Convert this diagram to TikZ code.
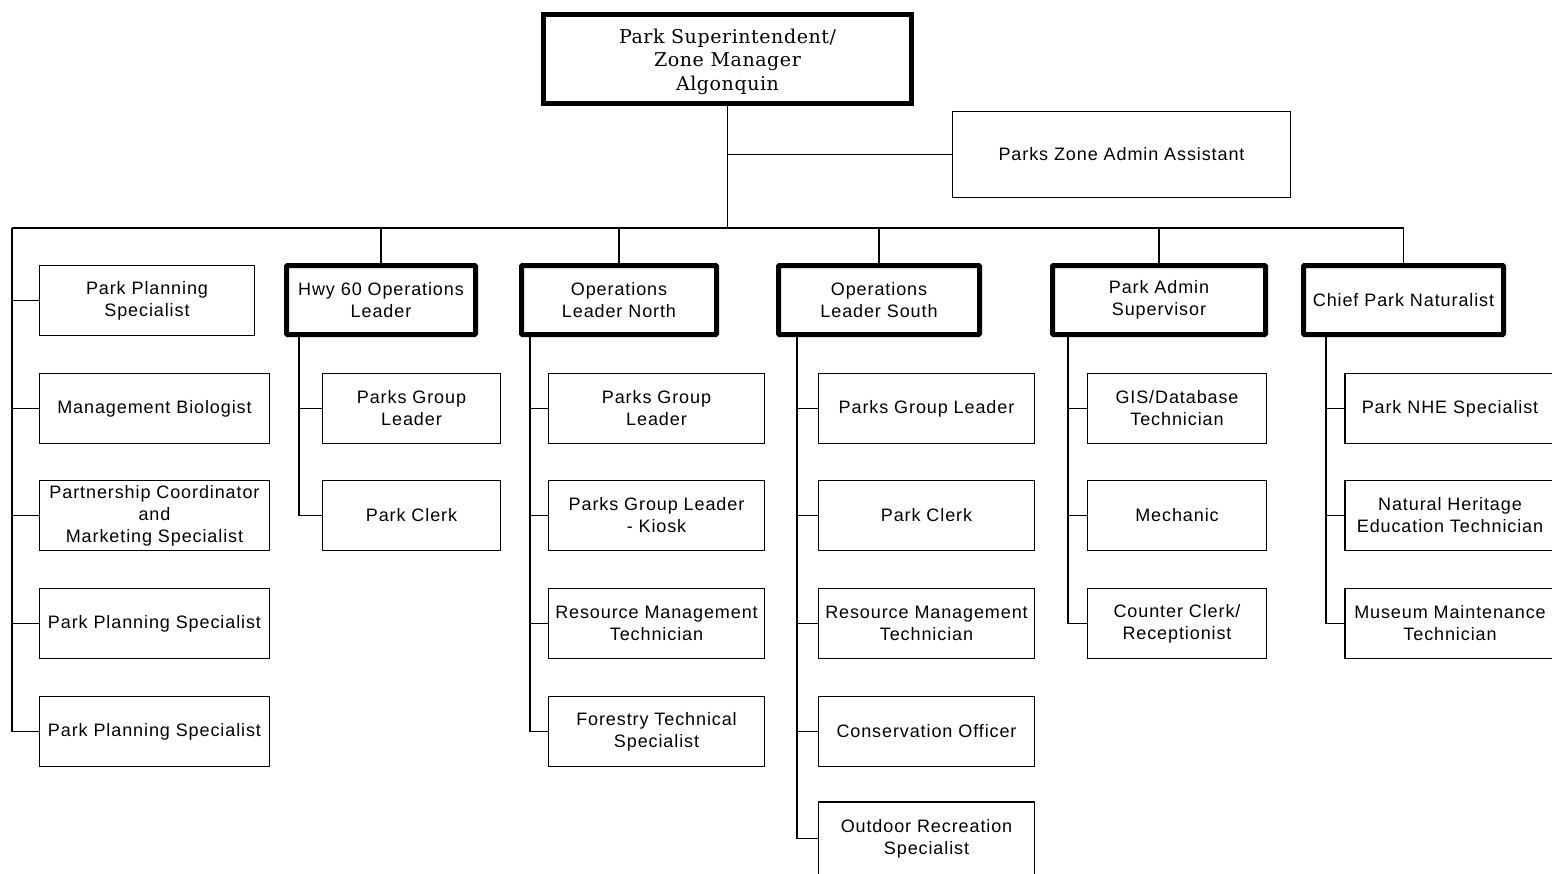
\documentclass[tikz,border=0pt]{standalone}
\usepackage{fontspec}
\newfontfamily\sansf[LetterSpace=5]{Liberation Sans}
\newfontfamily\serf[LetterSpace=3]{DejaVu Serif}
\begin{document}
\begin{tikzpicture}[x=1pt,y=-1pt,
  conn/.style={line width=1.3pt,draw=black},
  thinbox/.style={draw=black,line width=1.3pt,rectangle,align=center,inner sep=0pt,
    minimum height=70pt,font=\sansf\fontsize{18}{22}\selectfont},
  thickbox/.style={draw=black,line width=5pt,rectangle,rounded corners=1pt,align=center,inner sep=0pt,
    minimum height=69pt,font=\sansf\fontsize{18}{22}\selectfont},
  topbox/.style={draw=black,line width=5pt,rectangle,align=center,inner sep=0pt,
    font=\serf\fontsize{19}{23.5}\selectfont}]
\useasboundingbox (0,0) rectangle (1552,873);
\clip (0,0) rectangle (1552,873);

% top
\node[topbox,minimum width=368pt,minimum height=89pt] (top) at (727.5,59) {\rule{0pt}{20pt}Park Superintendent/\\Zone Manager\\Algonquin};
\node[thinbox,minimum width=338pt,minimum height=86pt] (adm) at (1121.5,154.5) {Parks Zone Admin Assistant};

% level 1 leaders
\node[thickbox,minimum width=189pt] (hwy) at (381,300) {Hwy 60 Operations\\Leader};
\node[thickbox,minimum width=195pt] (opn) at (619,300) {Operations\\Leader North};
\node[thickbox,minimum width=201pt] (ops) at (879,300) {Operations\\Leader South};
\node[thickbox,minimum width=213pt] (pas) at (1159,300) {Park Admin\\Supervisor};
\node[thickbox,minimum width=200pt] (cpn) at (1403.5,300) {Chief Park Naturalist};

% left column
\node[thinbox,minimum width=215pt] (l0) at (147,300.5) {Park Planning\\Specialist};
\node[thinbox,minimum width=230pt] (l1) at (154.5,408.5) {Management Biologist};
\node[thinbox,minimum width=230pt] (l2) at (154.5,515.5) {Partnership Coordinator\\and\\Marketing Specialist};
\node[thinbox,minimum width=230pt] (l3) at (154.5,623.5) {Park Planning Specialist};
\node[thinbox,minimum width=230pt] (l4) at (154.5,731.5) {Park Planning Specialist};

% hwy children
\node[thinbox,minimum width=178pt] (h1) at (411.5,408.5) {Parks Group\\Leader};
\node[thinbox,minimum width=178pt] (h2) at (411.5,515.5) {Park Clerk};

% north children
\node[thinbox,minimum width=216pt] (n1) at (656.5,408.5) {Parks Group\\Leader};
\node[thinbox,minimum width=216pt] (n2) at (656.5,515.5) {Parks Group Leader\\- Kiosk};
\node[thinbox,minimum width=216pt] (n3) at (656.5,623.5) {Resource Management\\Technician};
\node[thinbox,minimum width=216pt] (n4) at (656.5,731.5) {Forestry Technical\\Specialist};

% south children
\node[thinbox,minimum width=216pt] (s1) at (926.5,408.5) {Parks Group Leader};
\node[thinbox,minimum width=216pt] (s2) at (926.5,515.5) {Park Clerk};
\node[thinbox,minimum width=216pt] (s3) at (926.5,623.5) {Resource Management\\Technician};
\node[thinbox,minimum width=216pt] (s4) at (926.5,731.5) {Conservation Officer};
\node[thinbox,minimum width=216pt,minimum height=73pt] (s5) at (926.5,838.5) {Outdoor Recreation\\Specialist};

% admin children
\node[thinbox,minimum width=179pt] (a1) at (1177,408.5) {GIS/Database\\Technician};
\node[thinbox,minimum width=179pt] (a2) at (1177,515.5) {Mechanic};
\node[thinbox,minimum width=179pt] (a3) at (1177,623.5) {Counter Clerk/\\Receptionist};

% chief children
\node[thinbox,minimum width=210pt] (c1) at (1450,408.5) {Park NHE Specialist};
\node[thinbox,minimum width=210pt] (c2) at (1450,515.5) {Natural Heritage\\Education Technician};
\node[thinbox,minimum width=210pt] (c3) at (1450,623.5) {Museum Maintenance\\Technician};

% bus
\coordinate (busL) at (12,228);
\coordinate (busR) at (1404,228);
\draw[conn] (top.south) -- (top.south |- busL);
\draw[conn] (top.south |- adm.west) -- (adm.west);
\draw[conn] (busL) -- (busR);
\foreach \n in {hwy,opn,ops,pas,cpn} \draw[conn] (\n.north |- busL) -- (\n.north);

% left trunk
\draw[conn] (busL) -- (busL |- l4.west);
\foreach \n in {l0,l1,l2,l3,l4} \draw[conn] (busL |- \n.west) -- (\n.west);

% child trunks
\coordinate (hT) at ([xshift=15pt]hwy.south west);
\coordinate (nT) at ([xshift=11pt]opn.south west);
\coordinate (sT) at ([xshift=21pt]ops.south west);
\coordinate (aT) at ([xshift=18pt]pas.south west);
\coordinate (cT) at ([xshift=25pt]cpn.south west);
\draw[conn] (hT) -- (hT |- h2.west);
\foreach \n in {h1,h2} \draw[conn] (hT |- \n.west) -- (\n.west);
\draw[conn] (nT) -- (nT |- n4.west);
\foreach \n in {n1,n2,n3,n4} \draw[conn] (nT |- \n.west) -- (\n.west);
\draw[conn] (sT) -- (sT |- s5.west);
\foreach \n in {s1,s2,s3,s4,s5} \draw[conn] (sT |- \n.west) -- (\n.west);
\draw[conn] (aT) -- (aT |- a3.west);
\foreach \n in {a1,a2,a3} \draw[conn] (aT |- \n.west) -- (\n.west);
\draw[conn] (cT) -- (cT |- c3.west);
\foreach \n in {c1,c2,c3} \draw[conn] (cT |- \n.west) -- (\n.west);
\end{tikzpicture}
\end{document}
